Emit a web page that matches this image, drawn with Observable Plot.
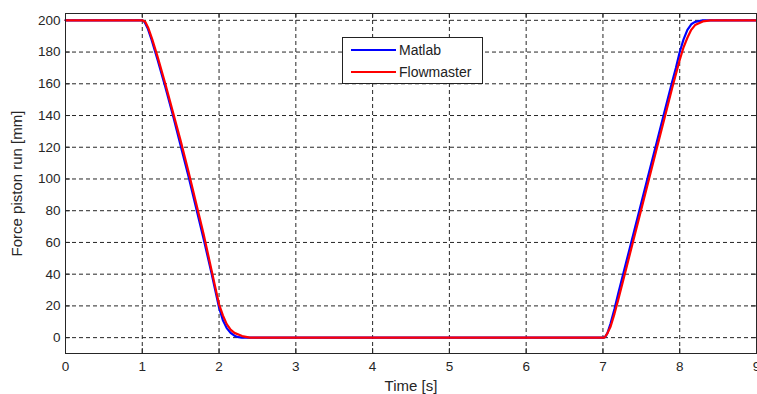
<!DOCTYPE html>
<html><head><meta charset="utf-8">
<script src="https://cdn.jsdelivr.net/npm/d3@7"></script>
<script src="https://cdn.jsdelivr.net/npm/@observablehq/plot@0.6"></script>
<style>
body{margin:0;background:#fff;font-family:"Liberation Sans",Arial,sans-serif}
#wrap{position:relative;width:757px;height:394px;overflow:hidden}
#wrap svg g[aria-label="x-axis label"] text, #wrap svg g[aria-label="y-axis label"] text{font-size:15px}
#legend{position:absolute;left:342px;top:37px;width:139px;height:45px;border:1px solid #222;background:#fff;font:14px "Liberation Sans",Arial,sans-serif;color:#222}
#legend .row{position:absolute;left:0;height:16px;line-height:16px}
#legend .sw{position:absolute;left:8px;width:45px;height:2px;top:7px}
#legend .tx{position:absolute;left:56px;top:0;white-space:nowrap}
</style>
</head><body>
<div id="wrap"></div>
<script>
const xTicks = [0,1,2,3,4,5,6,7,8,9];
const yTicks = [0,20,40,60,80,100,120,140,160,180,200];
const seriesNames = ["Matlab","Flowmaster"];

const matlabT = [0,1.00,1.03,1.07,1.12,1.20,1.30,1.40,1.50,1.60,1.70,1.80,1.90,1.95,2.00,2.05,2.10,2.15,2.20,2.25,2.30,
  7.00,7.03,7.06,7.10,7.15,7.20,7.30,7.40,7.50,7.60,7.70,7.80,7.90,7.95,8.00,8.05,8.10,8.15,8.20,8.30,9];
const matlabV = [200,200,199,195,188,175,158,140,121,102,82,62,41,30,19,11,6,3,1.2,0.3,0,
  0,0.5,3,9,18,28,47,66,85,104,123,142,161,170,180,188,194,197.5,199,200,200];

const flowT = [0,1.00,1.04,1.08,1.13,1.20,1.30,1.40,1.50,1.60,1.70,1.80,1.90,1.95,2.00,2.05,2.10,2.15,2.20,2.30,2.40,
  7.00,7.02,7.05,7.10,7.15,7.20,7.30,7.40,7.50,7.60,7.70,7.80,7.90,7.95,8.00,8.05,8.10,8.15,8.20,8.30,8.40,9];
const flowV = [200,200,199,195,188,177,160,142,124,105,85,65,43,32,21,14,8.5,5,3,1,0,
  0,0,2,7,15,24,43,62,81,100,119,138,157,166,175,183,189,194,197,199.3,200,200];

const matlab = matlabT.map((t,i)=>({t, v: matlabV[i]}));
const flow = flowT.map((t,i)=>({t, v: flowV[i]}));

const W = 757, H = 394, mt = 13, mb = 41, ml = 65, mr = 1;
const pw = W - ml - mr, ph = H - mt - mb;
const ink = "#262626";

const chart = Plot.plot({
  width: W, height: H,
  marginTop: mt, marginBottom: mb, marginLeft: ml, marginRight: mr,
  style: {fontFamily: '"Liberation Sans", Arial, sans-serif', fontSize: "13.5px", color: ink, background: "#fff"},
  x: {domain: [0, 9]},
  y: {domain: [-10, 204.3]},
  marks: [
    Plot.gridX(xTicks, {stroke: ink, strokeOpacity: 1, strokeDasharray: "4,3"}),
    Plot.gridY(yTicks, {stroke: ink, strokeOpacity: 1, strokeDasharray: "4,3"}),
    Plot.tickX(xTicks, {x: d => d, stroke: ink, insetTop: ph - 5}),
    Plot.tickX(xTicks, {x: d => d, stroke: ink, insetBottom: ph - 5}),
    Plot.tickY(yTicks, {y: d => d, stroke: ink, insetRight: pw - 5}),
    Plot.tickY(yTicks, {y: d => d, stroke: ink, insetLeft: pw - 5}),
    Plot.axisX(xTicks, {tickSize: 0, tickPadding: 8, label: "Time [s]", labelAnchor: "center", labelArrow: "none", labelOffset: 37, fill: ink}),
    Plot.axisY(yTicks, {tickSize: 0, tickPadding: 5, label: "Force piston run [mm]", labelAnchor: "center", labelArrow: "none", labelOffset: 54, fill: ink}),
    Plot.line(matlab, {x: "t", y: "v", stroke: "#0000ff", strokeWidth: 2.2}),
    Plot.line(flow, {x: "t", y: "v", stroke: "#ff0000", strokeWidth: 2.2}),
    Plot.frame({stroke: ink})
  ]
});
const wrap = document.getElementById("wrap");
wrap.appendChild(chart);

const legend = document.createElement("div");
legend.id = "legend";
const colors = ["#0000ff", "#ff0000"];
seriesNames.forEach((name, i) => {
  const row = document.createElement("div");
  row.className = "row";
  row.style.top = (4 + i * 22) + "px";
  row.style.width = "139px";
  row.innerHTML = `<div class="sw" style="background:${colors[i]}"></div><div class="tx">${name}</div>`;
  legend.appendChild(row);
});
wrap.appendChild(legend);
</script>
</body></html>
